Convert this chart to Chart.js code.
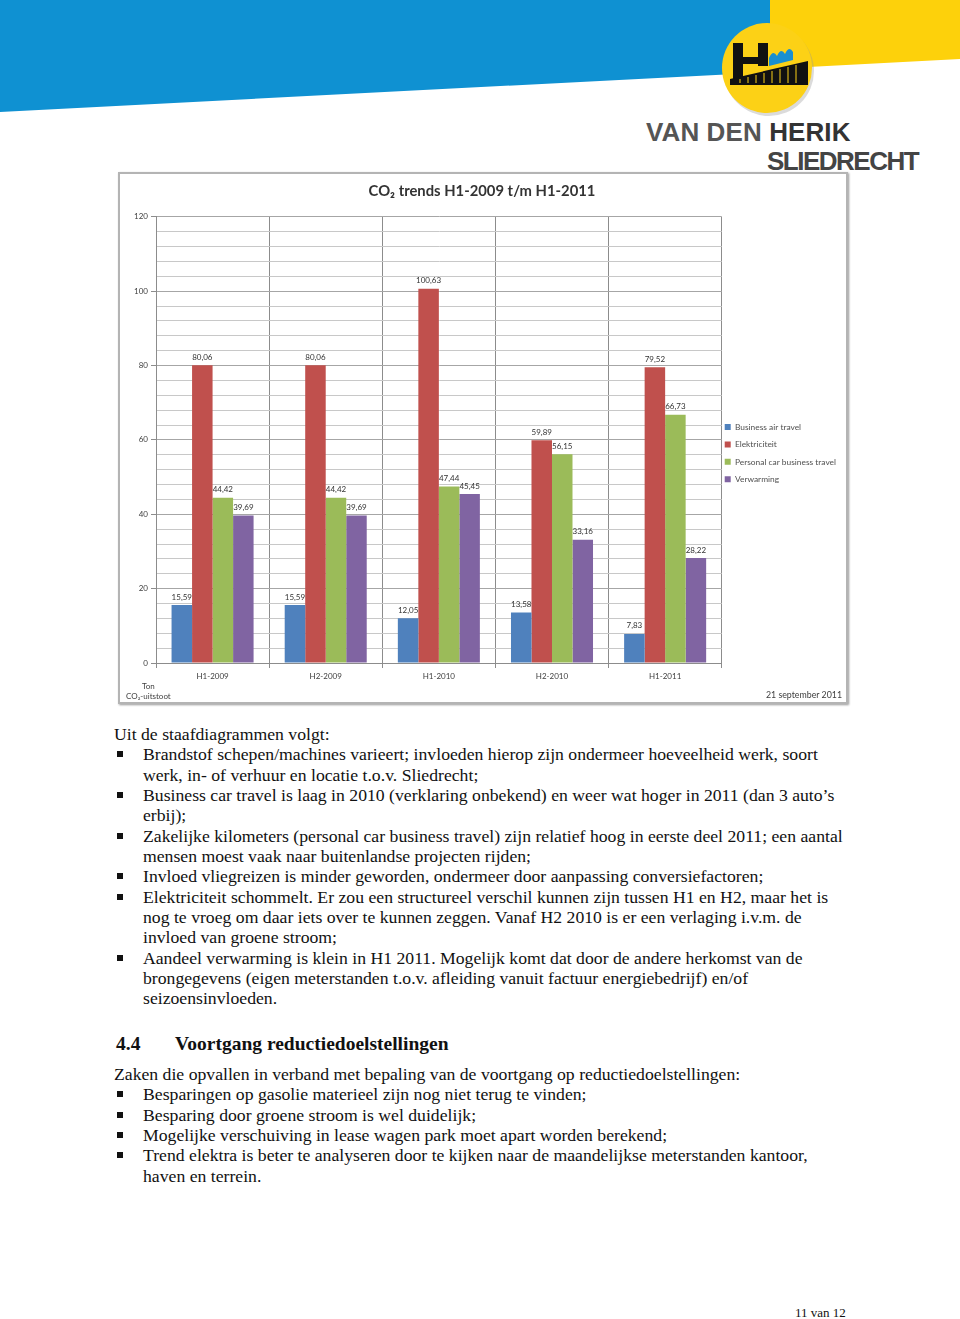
<!DOCTYPE html>
<html>
<head>
<meta charset="utf-8">
<script src="https://cdn.jsdelivr.net/npm/chart.js@4/dist/chart.umd.min.js"></script>
<style>
    body { margin: 0; width: 960px; height: 1319px; background: #fff; position: relative; overflow: hidden; }
    #header { position: absolute; left: 0; top: 0; }
    .brand { position: absolute; font-family: "Liberation Sans", Arial, sans-serif; font-weight: bold; color: #4a4a4a; white-space: nowrap; }
    #chart-box { position: absolute; left: 118px; top: 172px; width: 726px; height: 528px; border: 2px solid #b4b4b4; box-shadow: 1px 1px 2px #999; background: #fff; }
    #chart-box canvas { position: absolute; left: 0; top: 0; }
    .chart-note { position: absolute; font-family: Lato, "Open Sans", sans-serif; font-size: 8px; color: #404040; white-space: nowrap; }
    .tekst { position: absolute; left: 114px; font-family: "Liberation Serif", "Times New Roman", serif; font-size: 17.7px; line-height: 20.35px; color: #111; white-space: nowrap; }
    .tekst ul { list-style: none; margin: 0; padding: 0; }
    .tekst li { position: relative; padding-left: 29px; }
    .tekst li::before { content: ""; position: absolute; left: 3px; top: 7px; width: 6px; height: 6px; background: #111; }
    h2 { position: absolute; left: 116px; top: 1033px; margin: 0; font-family: "Liberation Serif", "Times New Roman", serif; font-size: 19.5px; font-weight: bold; color: #111; white-space: nowrap; }
    h2 span { position: absolute; left: 59px; }
    #pagina { position: absolute; left: 795px; top: 1305px; font-family: "Liberation Serif", serif; font-size: 13px; color: #111; }
</style>
</head>
<body>

<svg id="header" width="960" height="120">
    <polygon points="0,0 772,0 772,72 0,112" fill="#0f91d2"/>
    <polygon points="770,0 960,0 960,59 770,69" fill="#fdd10b"/>
    <circle cx="769" cy="71" r="45" fill="#999" opacity="0.35"/>
    <circle cx="767" cy="68" r="45" fill="#fcd116"/>
    <!-- logo: H, hek en golven -->
    <polygon points="733,43 743,43 743,57 758,57 758,43 768,43 768,66 758,66 758,64 743,64 743,79 733,79" fill="#111"/>
    <polygon points="730,79 808,61 808,85 730,85" fill="#111"/>
    <g stroke="#fcd116" stroke-width="1">
        <line x1="740" y1="79" x2="740" y2="83"/><line x1="748" y1="77" x2="748" y2="83"/>
        <line x1="756" y1="75" x2="756" y2="83"/><line x1="764" y1="73" x2="764" y2="83"/>
        <line x1="772" y1="71" x2="772" y2="83"/><line x1="780" y1="69" x2="780" y2="83"/>
        <line x1="788" y1="67" x2="788" y2="83"/><line x1="796" y1="65" x2="796" y2="83"/>
    </g>
    <path d="M769,58 q4,-9 8,-2 q4,-9 8,-2 q4,-9 8,-2 l0,8 l-24,6 z" fill="#1a8fd0"/>
</svg>
<div class="brand" style="left:646px; top:117px; font-size:26px; letter-spacing:0.1px;"><span style="color:#555">VAN DEN</span> <span style="color:#333">HERIK</span></div>
<div class="brand" style="left:767px; top:146px; font-size:26px; letter-spacing:-1.5px; color:#444;">SLIEDRECHT</div>

<div id="chart-box">
    <canvas id="grafiek" width="726" height="528"></canvas>
    <div class="chart-note" style="left:6px; top:507px; line-height:10px; text-align:center;">Ton<br>CO₂-uitstoot</div>
    <div class="chart-note" style="right:4px; top:515px; font-size:8.8px;">21 september 2011</div>
</div>

<div class="tekst" style="top:724px;">
    Uit de staafdiagrammen volgt:
    <ul>
        <li>Brandstof schepen/machines varieert; invloeden hierop zijn ondermeer hoeveelheid werk, soort<br>werk, in- of verhuur en locatie t.o.v. Sliedrecht;</li>
        <li>Business car travel is laag in 2010 (verklaring onbekend) en weer wat hoger in 2011 (dan 3 auto’s<br>erbij);</li>
        <li>Zakelijke kilometers (personal car business travel) zijn relatief hoog in eerste deel 2011; een aantal<br>mensen moest vaak naar buitenlandse projecten rijden;</li>
        <li>Invloed vliegreizen is minder geworden, ondermeer door aanpassing conversiefactoren;</li>
        <li>Elektriciteit schommelt. Er zou een structureel verschil kunnen zijn tussen H1 en H2, maar het is<br>nog te vroeg om daar iets over te kunnen zeggen. Vanaf H2 2010 is er een verlaging i.v.m. de<br>invloed van groene stroom;</li>
        <li>Aandeel verwarming is klein in H1 2011. Mogelijk komt dat door de andere herkomst van de<br>brongegevens (eigen meterstanden t.o.v. afleiding vanuit factuur energiebedrijf) en/of<br>seizoensinvloeden.</li>
    </ul>
</div>

<h2>4.4<span>Voortgang reductiedoelstellingen</span></h2>

<div class="tekst" style="top:1064px;">
    Zaken die opvallen in verband met bepaling van de voortgang op reductiedoelstellingen:
    <ul>
        <li>Besparingen op gasolie materieel zijn nog niet terug te vinden;</li>
        <li>Besparing door groene stroom is wel duidelijk;</li>
        <li>Mogelijke verschuiving in lease wagen park moet apart worden berekend;</li>
        <li>Trend elektra is beter te analyseren door te kijken naar de maandelijkse meterstanden kantoor,<br>haven en terrein.</li>
    </ul>
</div>

<div id="pagina">11 van 12</div>

<script>
// data uit de staafdiagram
const perioden = ["H1-2009", "H2-2009", "H1-2010", "H2-2010", "H1-2011"];
const businessAirTravel = [15.59, 15.59, 12.05, 13.58, 7.83];
const elektriciteit = [80.06, 80.06, 100.63, 59.89, 79.52];
const personalCar = [44.42, 44.42, 47.44, 56.15, 66.73];
const verwarming = [39.69, 39.69, 45.45, 33.16, 28.22];
const yMax = 120;
const yStap = 4;
const yLabelStap = 20;

const fontNaam = "Lato, 'Open Sans', sans-serif";

// waarden boven de staven, met komma
const waardeLabels = {
    id: "waardeLabels",
    afterDatasetsDraw(chart) {
        const ctx = chart.ctx;
        ctx.save();
        ctx.font = "8px " + fontNaam;
        ctx.fillStyle = "#333";
        ctx.textAlign = "center";
        ctx.textBaseline = "bottom";
        chart.data.datasets.forEach((ds, i) => {
            chart.getDatasetMeta(i).data.forEach((bar, j) => {
                ctx.fillText(ds.data[j].toFixed(2).replace(".", ","), bar.x, bar.y - 4);
            });
        });
        ctx.restore();
    }
};

// legenda iets dichter tegen het plotvlak, titel terug naar het midden
const legendaSchuif = {
    id: "legendaSchuif",
    afterLayout(chart) {
        chart.legend.left -= 6;
        chart.legend.right -= 6;
        chart.titleBlock.left -= 4;
        chart.titleBlock.right -= 4;
    }
};

new Chart(document.getElementById("grafiek"), {
    type: "bar",
    data: {
        labels: perioden,
        datasets: [
            { label: "Business air travel", data: businessAirTravel, backgroundColor: "#4f81bd" },
            { label: "Elektriciteit", data: elektriciteit, backgroundColor: "#c0504d" },
            { label: "Personal car business travel", data: personalCar, backgroundColor: "#9bbb59" },
            { label: "Verwarming", data: verwarming, backgroundColor: "#8064a2" }
        ]
    },
    options: {
        responsive: false,
        animation: false,
        devicePixelRatio: 1,
        categoryPercentage: 0.725,
        barPercentage: 1,
        layout: { padding: { left: 0, right: -6, top: 0, bottom: 0 } },
        scales: {
            x: {
                afterFit: s => { s.height = 39; },
                grid: { color: "#8c8c8c", tickLength: 5, offset: true },
                border: { color: "#8c8c8c" },
                ticks: { font: { family: fontNaam, size: 8 }, color: "#404040", padding: 4 }
            },
            y: {
                min: 0,
                max: yMax,
                afterFit: s => { s.width = 36; },
                ticks: {
                    stepSize: yStap,
                    autoSkip: false,
                    font: { family: fontNaam, size: 8 },
                    color: "#404040",
                    padding: 3,
                    callback: v => (v % yLabelStap === 0 ? v : "")
                },
                grid: {
                    tickLength: 5,
                    color: c => (c.tick && c.tick.value % yLabelStap === 0 ? "#a6a6a6" : "#c8c8c8"),
                    tickColor: c => (c.tick && c.tick.value % yLabelStap === 0 ? "#8c8c8c" : "rgba(0,0,0,0)")
                },
                border: { color: "#8c8c8c" }
            }
        },
        plugins: {
            title: {
                display: true,
                text: "CO₂ trends H1-2009 t/m H1-2011",
                font: { family: fontNaam, size: 14.8, weight: "bold" },
                color: "#333",
                padding: { top: 8, bottom: 17 }
            },
            legend: {
                position: "right",
                title: { display: true, text: "", font: { size: 1 }, padding: { top: 29, bottom: 0 } },
                labels: {
                    font: { family: fontNaam, size: 8.4 },
                    color: "#505050",
                    boxWidth: 6,
                    boxHeight: 6,
                    padding: 9
                }
            },
            tooltip: { enabled: false }
        }
    },
    plugins: [waardeLabels, legendaSchuif]
});
</script>
</body>
</html>
